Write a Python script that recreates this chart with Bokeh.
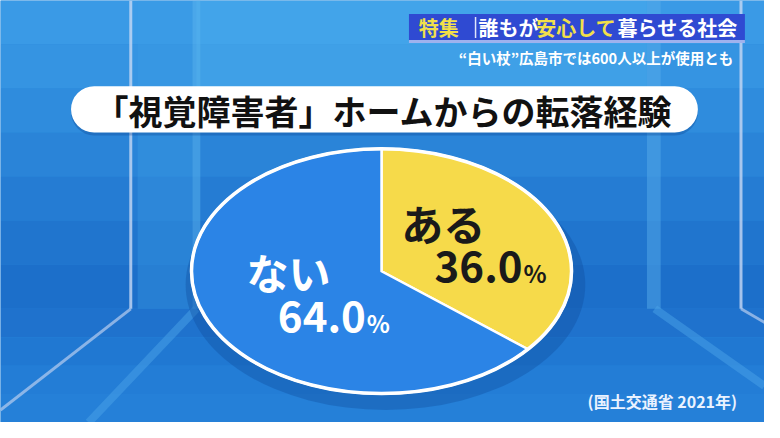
import numpy as np
from bokeh.plotting import figure
from bokeh.models import Range1d
from bokeh.core.properties import value
from bokeh.embed import file_html
from bokeh.resources import INLINE

# ---- data ----
categories = ["ある", "ない"]
shares = [36.0, 64.0]
share_labels = ["36.0", "64.0"]
title_text = "「視覚障害者」ホームからの転落経験"
source_text = "(国土交通省 2021年)"
header_parts = ["特集", "誰もが", "安心して", "暮らせる社会"]
subheader_text = "“白い杖”広島市では600人以上が使用とも"

FONT = value("Noto Sans CJK JP")

W, H = 764, 422
p = figure(width=W, height=H, output_backend="svg", toolbar_location=None,
           x_range=Range1d(0, 780), y_range=Range1d(438, 0),
           min_border=0, min_border_left=0, min_border_right=0,
           min_border_top=0, min_border_bottom=0)
p.axis.visible = False
p.grid.visible = False
p.outline_line_color = None
p.background_fill_color = "#2a88dc"
p.border_fill_color = "#2a88dc"

# ---- background: wall gradient bands ----
wall_cols = ["#3a9ae6", "#3594e2", "#2f8cdd", "#2a84d8", "#257cd3", "#2075ce", "#1c6fca"]
n = len(wall_cols)
tops = np.linspace(0, 320, n + 1)
p.quad(left=0, right=780, top=tops[:-1], bottom=tops[1:], fill_color=wall_cols,
       line_color=None)
p.quad(left=200, right=660, top=0, bottom=90, fill_color="#52b6f2", fill_alpha=0.35, line_color=None)
floor_cols = ["#1f72cd", "#2078d2", "#237dd6", "#2580d8"]
ftops = np.linspace(320, 438, len(floor_cols) + 1)
p.quad(left=0, right=780, top=ftops[:-1], bottom=ftops[1:], fill_color=floor_cols, line_color=None)
p.quad(left=[140, 196, 660], right=[196, 204, 674], top=0, bottom=320,
       fill_color=["#3d9de6", "#5ab4ee", "#5ab0ec"], fill_alpha=[0.35, 0.5, 0.45], line_color=None)
p.segment(x0=[133, 756], y0=[0, 0], x1=[133, 756], y1=[320, 320], line_color="#c8d8f4",
          line_width=3, line_alpha=0.8)
p.segment(x0=[133, 756, 200, 668], y0=[320, 320, 320, 320], x1=[0, 790, 90, 780],
          y1=[425, 340, 438, 400], line_color=["#b8cdf0", "#b8cdf0", "#4aa2e8", "#4aa2e8"],
          line_width=[3, 3, 8, 8], line_alpha=[0.7, 0.7, 0.5, 0.5])

# ---- header ----
p.quad(left=417, right=760, top=14, bottom=42, fill_color="#2f4ad2", line_color=None)
p.quad(left=417, right=760, top=41, bottom=44, fill_color="#9fb2ee", line_color=None)
hx = [427, 488, 547, 630]
hcol = ["#f2e04a", "#ffffff", "#f2e04a", "#ffffff"]
p.text(x=hx, y=[28] * 4, text=header_parts, text_color=hcol, text_font=FONT,
       text_font_style="bold", text_font_size="20px", text_baseline="middle", text_align="left")
p.segment(x0=[485], y0=[17], x1=[485], y1=[39], line_color="#dfe6fb", line_width=1.5)
p.text(x=[748], y=[59], text=[subheader_text], text_color="#ffffff", text_font=FONT,
       text_font_style="bold", text_font_size="14.5px", text_baseline="middle", text_align="right")

# ---- title pill ----
p.rect(x=[392], y=[116], width=[640], height=[48], fill_color="#0a3f8a", fill_alpha=0.3,
       line_color=None, border_radius=24)
p.rect(x=[392], y=[113], width=[640], height=[48], fill_color="#ffffff", line_color=None,
       border_radius=24)
p.text(x=[391], y=[114], text=[title_text], text_color="#111111", text_font=FONT,
       text_font_style="bold", text_font_size="34px", text_baseline="middle", text_align="center")

# ---- elliptical pie ----
cx, cy, rx, ry = 389, 281, 194, 127
p.ellipse(x=[cx + 4], y=[cy + 14], width=[2 * rx + 20], height=[2 * ry + 6],
          fill_color="#0d4a9a", fill_alpha=0.35, line_color=None)
fracs = np.array(shares) / sum(shares)
starts = np.concatenate([[0], np.cumsum(fracs)[:-1]]) * 2 * np.pi
ends = np.cumsum(fracs) * 2 * np.pi
colors = ["#f6da4a", "#2b84e6"]
xs, ys = [], []
for a0, a1 in zip(starts, ends):
    t = np.linspace(a0, a1, 120)
    xs.append(np.concatenate([[cx], cx + rx * np.sin(t), [cx]]))
    ys.append(np.concatenate([[cy], cy - ry * np.cos(t), [cy]]))
p.patches(xs=xs, ys=ys, fill_color=colors, line_color="#ffffff", line_width=2.5,
          line_join="round")
p.ellipse(x=[cx], y=[cy], width=[2 * rx], height=[2 * ry], fill_color=None,
          line_color="#ffffff", line_width=3.5)

# ---- slice labels ----
p.text(x=[452], y=[230], text=[categories[0]], text_color="#1a1a1a", text_font=FONT,
       text_font_style="bold", text_font_size="42px", text_baseline="middle", text_align="center")
p.text(x=[533], y=[276], text=[share_labels[0]], text_color="#1a1a1a", text_font=FONT,
       text_font_style="bold", text_font_size="42px", text_baseline="middle", text_align="right")
p.text(x=[534], y=[282], text=["%"], text_color="#1a1a1a", text_font=FONT,
       text_font_style="bold", text_font_size="24px", text_baseline="middle", text_align="left")

p.text(x=[294], y=[281], text=[categories[1]], text_color="#ffffff", text_font=FONT,
       text_font_style="bold", text_font_size="42px", text_baseline="middle", text_align="center")
p.text(x=[373], y=[328], text=[share_labels[1]], text_color="#ffffff", text_font=FONT,
       text_font_style="bold", text_font_size="42px", text_baseline="middle", text_align="right")
p.text(x=[374], y=[334], text=["%"], text_color="#ffffff", text_font=FONT,
       text_font_style="bold", text_font_size="24px", text_baseline="middle", text_align="left")

# ---- source ----
p.text(x=[752], y=[416], text=[source_text], text_color="#eaf2ff", text_font=FONT,
       text_font_style="bold", text_font_size="16px", text_baseline="middle", text_align="right")

open("out.html", "w").write(file_html(p, INLINE))
